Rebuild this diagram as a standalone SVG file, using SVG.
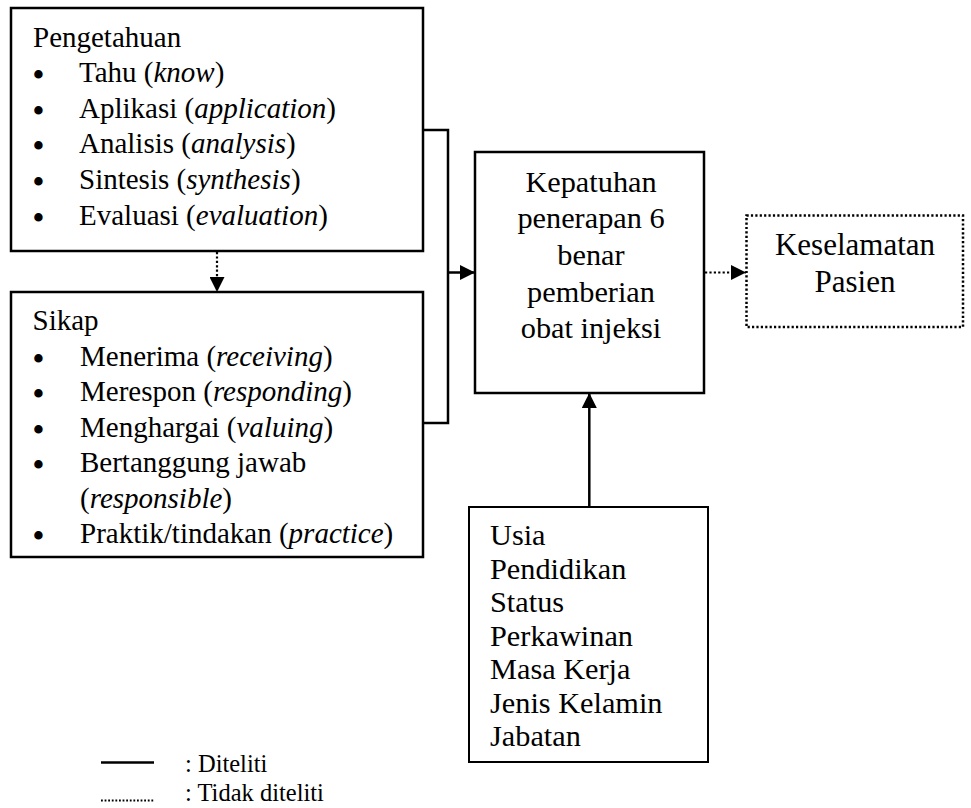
<svg xmlns="http://www.w3.org/2000/svg" width="971" height="808" viewBox="0 0 971 808">
<style>
.box{fill:#fff;stroke:#000;stroke-width:2.5}
.thin{fill:#fff;stroke:#000;stroke-width:2}
.dotbox{fill:#fff;stroke:#000;stroke-width:2.5;stroke-dasharray:2.2 2.2}
.line{fill:none;stroke:#000;stroke-width:2.5}
.dot{fill:none;stroke:#000;stroke-width:2.2;stroke-dasharray:2.2 2.2}
text{font-family:"Liberation Serif","Times New Roman",serif;fill:#000}
.a{font-size:29px}
.b{font-size:30.3px}
.c{font-size:31px}
.l{font-size:24.5px}
.bul{font-size:31px;font-weight:bold}
.m{text-anchor:middle}
</style>
<defs>
<marker id="arr" viewBox="0 0 15 15" refX="15" refY="7.5" markerWidth="15" markerHeight="15" markerUnits="userSpaceOnUse" orient="auto">
<path d="M0,0 L15,7.5 L0,15 z" fill="#000"/>
</marker>
</defs>

<g id="pengetahuan">
<rect class="box" x="11" y="8" width="412" height="243"/>
<g transform="translate(33,46.5)"><text class="a">Pengetahuan</text></g>
<g transform="translate(33,85)"><text class="bul">•</text></g>
<g transform="translate(79,82)"><text class="a">Tahu (<tspan font-style="italic">know</tspan>)</text></g>
<g transform="translate(33,120.7)"><text class="bul">•</text></g>
<g transform="translate(79,117.7)"><text class="a">Aplikasi (<tspan font-style="italic">application</tspan>)</text></g>
<g transform="translate(33,156.3)"><text class="bul">•</text></g>
<g transform="translate(79,153.3)"><text class="a">Analisis (<tspan font-style="italic">analysis</tspan>)</text></g>
<g transform="translate(33,192)"><text class="bul">•</text></g>
<g transform="translate(79,189)"><text class="a">Sintesis (<tspan font-style="italic">synthesis</tspan>)</text></g>
<g transform="translate(33,227.5)"><text class="bul">•</text></g>
<g transform="translate(79,224.5)"><text class="a">Evaluasi (<tspan font-style="italic">evaluation</tspan>)</text></g>
</g>

<g id="sikap">
<rect class="box" x="11" y="292" width="412" height="265"/>
<g transform="translate(32.5,330)"><text class="a">Sikap</text></g>
<g transform="translate(33,368.5)"><text class="bul">•</text></g>
<g transform="translate(80,365.5)"><text class="a">Menerima (<tspan font-style="italic">receiving</tspan>)</text></g>
<g transform="translate(33,404)"><text class="bul">•</text></g>
<g transform="translate(80,401)"><text class="a">Merespon (<tspan font-style="italic">responding</tspan>)</text></g>
<g transform="translate(33,439.5)"><text class="bul">•</text></g>
<g transform="translate(80,436.5)"><text class="a">Menghargai (<tspan font-style="italic">valuing</tspan>)</text></g>
<g transform="translate(33,475)"><text class="bul">•</text></g>
<g transform="translate(80,472)"><text class="a">Bertanggung jawab</text></g>
<g transform="translate(80,507.5)"><text class="a">(<tspan font-style="italic">responsible</tspan>)</text></g>
<g transform="translate(33,546)"><text class="bul">•</text></g>
<g transform="translate(80,543)"><text class="a">Praktik/tindakan (<tspan font-style="italic">practice</tspan>)</text></g>
</g>

<g id="kepatuhan">
<rect class="box" x="475" y="152" width="229" height="241"/>
<g transform="translate(591,191.7)"><text class="b m">Kepatuhan</text></g>
<g transform="translate(591,228.4)"><text class="b m">penerapan 6</text></g>
<g transform="translate(591,265)"><text class="b m">benar</text></g>
<g transform="translate(591,301.7)"><text class="b m">pemberian</text></g>
<g transform="translate(591,338.4)"><text class="b m">obat injeksi</text></g>
</g>

<g id="keselamatan">
<rect class="dotbox" x="746.5" y="215.5" width="216.5" height="111.5"/>
<g transform="translate(855,255)"><text class="c m">Keselamatan</text></g>
<g transform="translate(855,291.7)"><text class="c m">Pasien</text></g>
</g>

<g id="karakteristik">
<rect class="thin" x="469" y="507" width="239" height="255"/>
<g transform="translate(490,545)"><text class="b">Usia</text></g>
<g transform="translate(490,578.5)"><text class="b">Pendidikan</text></g>
<g transform="translate(490,612)"><text class="b">Status</text></g>
<g transform="translate(490,645.5)"><text class="b">Perkawinan</text></g>
<g transform="translate(490,679)"><text class="b">Masa Kerja</text></g>
<g transform="translate(490,712.5)"><text class="b">Jenis Kelamin</text></g>
<g transform="translate(490,746)"><text class="b">Jabatan</text></g>
</g>

<g id="connectors">
<path class="line" d="M423,130 H448 V423 H423"/>
<path class="line" d="M448,272.5 H475" marker-end="url(#arr)"/>
<path class="dot" d="M217,252 V292" marker-end="url(#arr)"/>
<path class="dot" d="M705,272.5 H746" marker-end="url(#arr)"/>
<path class="line" d="M589.3,507 V393" marker-end="url(#arr)"/>
</g>

<g id="legend">
<path class="line" d="M101,762.5 H154"/>
<path class="dot" d="M101,800.5 H154" style="stroke-width:1.8;stroke-dasharray:1.8 1.8"/>
<g transform="translate(185,772)"><text class="l">: Diteliti</text></g>
<g transform="translate(185,801)"><text class="l">: Tidak diteliti</text></g>
</g>
</svg>
